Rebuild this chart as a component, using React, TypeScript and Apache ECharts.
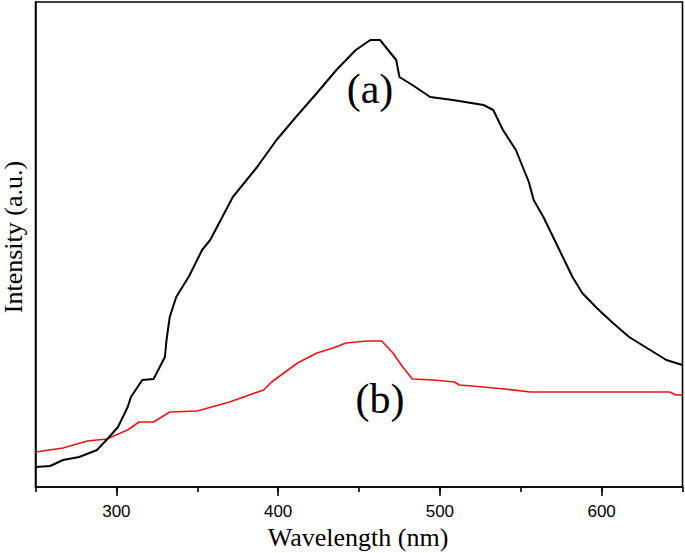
import React, { useEffect, useRef } from "react";
import * as echarts from "echarts";

const curveAX = [250, 259, 267, 277, 288, 295, 301, 307, 309, 316, 323, 330, 331, 333, 337, 345, 353, 358, 372, 387, 399, 411, 424, 436, 448, 457, 463, 473, 475, 483, 494, 508, 527, 533, 539, 547, 555, 558, 564, 570, 576, 582, 588, 597, 607, 617, 630, 640, 650];
const curveAY = [20, 21, 27, 30, 37, 49, 60, 80, 90, 107, 108, 130, 147, 170, 190, 211, 237, 247, 290, 320, 347, 370, 394, 417, 437, 447, 447, 427, 410, 402, 390, 387, 382, 377, 357, 337, 305, 287, 270, 250, 230, 210, 194, 179, 164, 150, 137, 127, 122];

const curveBX = [250, 267, 282, 294, 307, 314, 323, 333, 350, 370, 391, 396, 412, 424, 434, 442, 455, 464, 471, 477, 483, 496, 509, 512, 520, 540, 556, 642, 646, 650];
const curveBY = [35, 39, 46, 48, 57, 65, 65, 75, 76, 85, 97, 105, 124, 134, 139, 144, 146, 146, 134, 120, 108, 107, 105, 102, 101, 98, 95, 95, 92, 92];

const majorTicks = [300, 400, 500, 600];
const xTitle = "Wavelength (nm)";
const yTitle = "Intensity (a.u.)";
const labelA = "(a)";
const labelB = "(b)";

const SERIF = "'Liberation Serif', 'Times New Roman', serif";
const SANS = "'Liberation Sans', Arial, sans-serif";

export default function App() {
  const ref = useRef<HTMLDivElement>(null);
  useEffect(() => {
    if (!ref.current) return;
    const chart = echarts.init(ref.current, null, { renderer: "svg" });
    const dataA = curveAX.map((x, i) => [x, curveAY[i]]);
    const dataB = curveBX.map((x, i) => [x, curveBY[i]]);
    chart.setOption({
      animation: false,
      backgroundColor: "#fff",
      grid: {
        left: 35.5,
        right: 2.5,
        top: 2,
        bottom: 66,
        show: true,
        borderColor: "#000",
        borderWidth: 1.6,
        containLabel: false,
        outerBoundsMode: "none",
      },
      xAxis: [
        {
          type: "value",
          min: 250,
          max: 650,
          interval: 50,
          axisLine: { show: true, lineStyle: { color: "#000", width: 1.6 } },
          axisTick: { show: true, inside: false, length: 5, lineStyle: { color: "#000", width: 1.6 } },
          axisLabel: {
            show: true,
            margin: 16,
            color: "#000",
            fontFamily: SANS,
            fontSize: 17,
            formatter: (v: number) => (v % 100 === 0 && v > 250 && v < 650 ? String(v) : ""),
          },
          splitLine: { show: false },
        },
        {
          type: "value",
          min: 250,
          max: 650,
          position: "bottom",
          axisLine: { show: false },
          axisTick: { show: true, length: 9, customValues: majorTicks, lineStyle: { color: "#000", width: 1.6 } },
          axisLabel: { show: false },
          splitLine: { show: false },
        },
      ],
      yAxis: {
        type: "value",
        min: 0,
        max: 485,
        axisLine: { show: true, lineStyle: { color: "#000", width: 1.6 } },
        axisTick: { show: false },
        axisLabel: { show: false },
        splitLine: { show: false },
      },
      series: [
        {
          type: "line",
          data: dataA,
          showSymbol: false,
          lineStyle: { color: "#000", width: 2 },
          z: 3,
        },
        {
          type: "line",
          data: dataB,
          showSymbol: false,
          lineStyle: { color: "#e8141c", width: 1.6 },
          z: 2,
        },
      ],
      graphic: [
        {
          type: "text",
          x: 358,
          y: 537,
          style: { text: xTitle, font: `26px ${SERIF}`, fill: "#000", textAlign: "center", textVerticalAlign: "middle" },
        },
        {
          type: "text",
          x: 13,
          y: 237,
          rotation: Math.PI / 2,
          style: { text: yTitle, font: `26px ${SERIF}`, fill: "#000", textAlign: "center", textVerticalAlign: "middle" },
        },
        {
          type: "text",
          x: 370,
          y: 89,
          style: { text: labelA, font: `42px ${SERIF}`, fill: "#000", textAlign: "center", textVerticalAlign: "middle" },
        },
        {
          type: "text",
          x: 380,
          y: 399,
          style: { text: labelB, font: `42px ${SERIF}`, fill: "#000", textAlign: "center", textVerticalAlign: "middle" },
        },
      ],
    });
    return () => chart.dispose();
  }, []);
  return <div ref={ref} style={{ position: "fixed", left: 0, top: 0, width: 685, height: 553 }} />;
}
